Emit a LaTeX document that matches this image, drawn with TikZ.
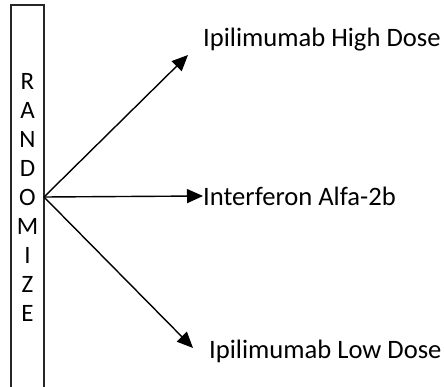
\documentclass[tikz,border=0pt]{standalone}
\usepackage{fontspec}
\setmainfont{Carlito}
\usetikzlibrary{arrows.meta}
\begin{document}
\begin{tikzpicture}[x=1pt,y=-1pt,
  boxline/.style={draw=black!85, line width=1.1pt},
  arrowline/.style={draw=black, line width=1.4pt, -{Triangle[length=16pt,width=14pt]}},
  lbl/.style={font=\fontsize{26.6}{30}\selectfont, inner sep=0pt, anchor=west},
  letters/.style={font=\fontsize{25}{29}\selectfont, inner sep=0pt, align=center}]
\useasboundingbox (0,0) rectangle (444,387);
\node[boxline, minimum width=33pt, minimum height=400pt, inner sep=0pt] (rand) at (27.5,205) {};
\node[letters] (word) at (27.5,197) {R\\A\\N\\D\\O\\M\\I\\Z\\E};
\coordinate (o) at (44,197);
\node[lbl] (hi) at (203,40) {Ipilimumab High Dose};
\node[lbl] (ifn) at (203,196) {Interferon Alfa-2b};
\node[lbl] (lo) at (209,351) {Ipilimumab Low Dose};
\coordinate (thi) at (188,55);
\coordinate (tlo) at (193,348);
\draw[arrowline] (o) -- (thi);
\draw[arrowline] (o) -- (ifn.west);
\draw[arrowline] (o) -- (tlo);
\end{tikzpicture}
\end{document}
